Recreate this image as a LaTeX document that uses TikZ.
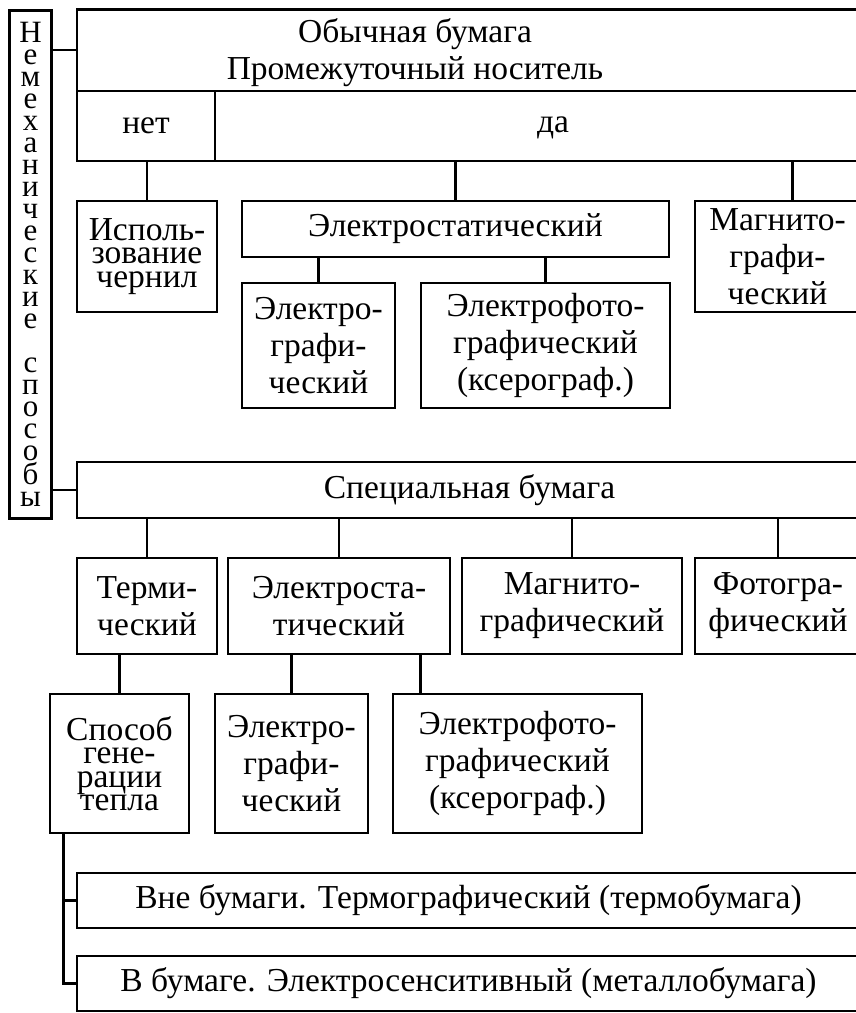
\documentclass[tikz,border=0pt]{standalone}
\usepackage{fontspec}
\setmainfont{Liberation Serif}
\newcommand\fs{\fontsize{33.5}{37}\selectfont}
\newcommand\fst{\fontsize{33.5}{23.5}\selectfont}
\newcommand\fsv{\fontsize{31}{22}\selectfont}
\begin{document}
\begin{tikzpicture}[x=1pt,y=-1pt,
  box/.style={draw,line width=2.8pt,inner sep=0pt,align=center,font=\fs},
  conn/.style={line width=2.4pt},
  txt/.style={inner sep=0pt,align=center,font=\fs}]
\clip (0,0) rectangle (856,1013);
% boxes (center, width, height)
\node[box,minimum width=42pt,minimum height=508pt,font=\fsv] (vert) at (30.5,264.5)
  {Н\\е\\м\\е\\х\\а\\н\\и\\ч\\е\\с\\к\\и\\е\\\mbox{}\\с\\п\\о\\с\\о\\б\\ы};
\node[box,minimum width=784pt,minimum height=81.5pt] (top) at (469,50.25) {};
\node[box,minimum width=138pt,minimum height=70pt] (net) at (146,126) {нет};
\node[box,minimum width=646pt,minimum height=70pt] (da) at (538,126) {};
\node[txt] (toptxt) at (415,53) {Обычная бумага\\Промежуточный носитель};
\node[txt] (datxt) at (553,128) {да};
\node[box,minimum width=140pt,minimum height=111pt,font=\fst] (isp) at (147,256.5) {Исполь-\\зование\\чернил};
\node[box,minimum width=427pt,minimum height=56pt] (estat) at (455.5,229) {Электростатический};
\node[box,minimum width=165pt,minimum height=111pt] (magn) at (777.5,256.5) {Магнито-\\графи-\\ческий};
\node[box,minimum width=153pt,minimum height=125pt] (egraf1) at (318.5,345.5) {Электро-\\графи-\\ческий};
\node[box,minimum width=249pt,minimum height=125pt] (efoto1) at (545.5,345.5) {Электрофото-\\графический\\(ксерограф.)};
\node[box,minimum width=785pt,minimum height=56pt] (spec) at (469.5,490) {Специальная бумага};
\node[box,minimum width=140pt,minimum height=96pt] (term) at (147,606) {Терми-\\ческий};
\node[box,minimum width=222pt,minimum height=96pt] (estat2) at (339,606) {Электроста-\\тический};
\node[box,minimum width=220pt,minimum height=96pt] (magn2) at (572,606) {Магнито-\\графический};
\node[box,minimum width=166pt,minimum height=96pt] (foto) at (778,606) {Фотогра-\\фический};
\node[box,minimum width=139pt,minimum height=139pt,font=\fst] (sposob) at (119.5,763.5) {Способ\\гене-\\рации\\тепла};
\node[box,minimum width=153pt,minimum height=139pt] (egraf2) at (291.5,763.5) {Электро-\\графи-\\ческий};
\node[box,minimum width=249pt,minimum height=139pt] (efoto2) at (517.5,763.5) {Электрофото-\\графический\\(ксерограф.)};
\node[box,minimum width=783pt,minimum height=55pt] (vne) at (468.5,900.5) {Вне бумаги. Термографический (термобумага)};
\node[box,minimum width=783pt,minimum height=55pt] (vbum) at (468.5,983.5) {В бумаге. Электросенситивный (металлобумага)};
% connectors
\draw[conn] (top.west) -- (top.west -| vert.east);
\draw[conn] (spec.west) -- (spec.west -| vert.east);
\draw[conn] (isp.north) -- (isp.north |- net.south);
\draw[conn] (estat.north) -- (estat.north |- da.south);
\coordinate (mtop) at ([xshift=15pt]magn.north);
\draw[conn] (mtop) -- (mtop |- da.south);
\draw[conn] (egraf1.north) -- (egraf1.north |- estat.south);
\draw[conn] (efoto1.north) -- (efoto1.north |- estat.south);
\draw[conn] (term.north) -- (term.north |- spec.south);
\draw[conn] (estat2.north) -- (estat2.north |- spec.south);
\draw[conn] (magn2.north) -- (magn2.north |- spec.south);
\draw[conn] (foto.north) -- (foto.north |- spec.south);
\draw[conn] (sposob.north) -- (sposob.north |- term.south);
\draw[conn] (egraf2.north) -- (egraf2.north |- estat2.south);
\coordinate (e2) at ([xshift=29pt]efoto2.north west);
\draw[conn] (e2) -- (e2 |- estat2.south);
\coordinate (sp) at ([xshift=15pt]sposob.south west);
\draw[conn] (sp) |- (vbum.west);
\draw[conn] (sp) |- (vne.west);
\end{tikzpicture}
\end{document}
